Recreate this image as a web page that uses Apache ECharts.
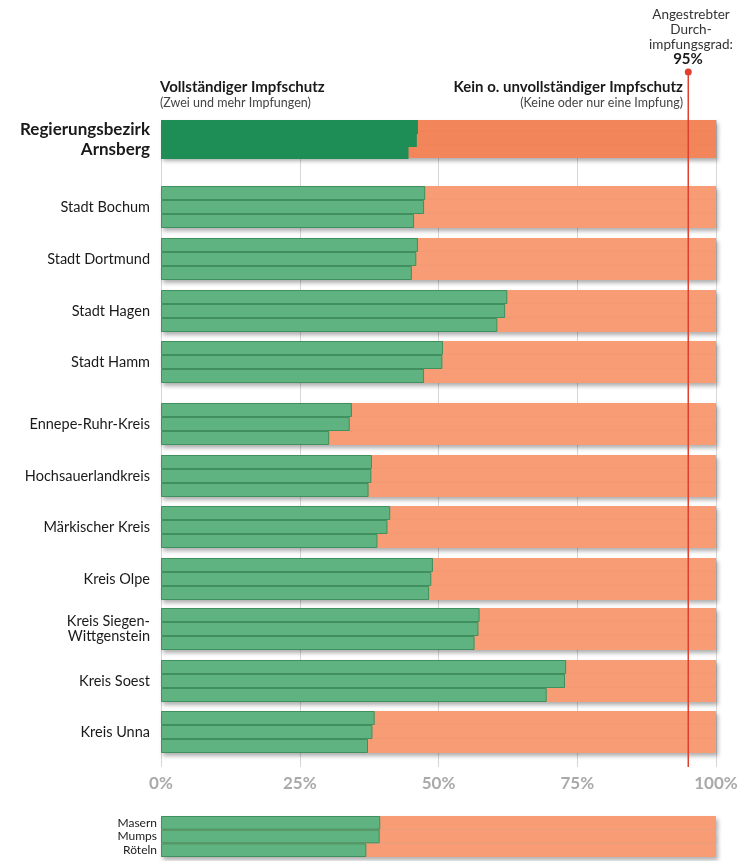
<!DOCTYPE html>
<html>
<head>
<meta charset="utf-8">
<script src="https://cdn.jsdelivr.net/npm/echarts@6/dist/echarts.min.js"></script>
<style>html,body{margin:0;padding:0;background:#fff;}#c{width:741px;height:861px;}</style>
</head>
<body>
<div id="c"></div>
<script>
// ---- data ----
const groups = ['Regierungsbezirk\nArnsberg', 'Stadt Bochum', 'Stadt Dortmund', 'Stadt Hagen', 'Stadt Hamm',
  'Ennepe-Ruhr-Kreis', 'Hochsauerlandkreis', 'Märkischer Kreis', 'Kreis Olpe', 'Kreis Siegen-\nWittgenstein',
  'Kreis Soest', 'Kreis Unna'];
const vaccines = ['Masern', 'Mumps', 'Röteln'];
const masern  = [46.3, 47.6, 46.3, 62.4, 50.8, 34.4, 38.0, 41.3, 49.0, 57.4, 73.0, 38.5];
const mumps   = [46.1, 47.4, 46.0, 62.0, 50.7, 34.0, 37.9, 40.8, 48.7, 57.2, 72.8, 38.1];
const roeteln = [44.6, 45.6, 45.2, 60.6, 47.4, 30.3, 37.4, 39.0, 48.3, 56.5, 69.5, 37.3];
const legendSample = [39.5, 39.4, 37.0];
const total = 100;
const target = 95;
const tickLabels = ['0%', '25%', '50%', '75%', '100%'];

// ---- layout ----
const L = 161, R = 25;
const groupTops = [120, 186, 238, 290, 341, 403, 455, 506, 558, 608, 660, 711];
const FONT = 'Lato';

const grid = [], xAxis = [], yAxis = [], series = [];

// background grid with gridlines + tick labels
grid.push({left: L, right: R, top: 120, bottom: 94});
xAxis.push({gridIndex: 0, type: 'value', min: 0, max: 100, interval: 25,
  axisLine: {show: false}, axisTick: {show: false},
  splitLine: {show: true, lineStyle: {color: '#d6d6d6', width: 1}},
  axisLabel: {margin: 8, color: '#a9a9a9', fontSize: 17, fontWeight: 'bold', fontFamily: FONT,
    formatter: (v) => tickLabels[Math.round(v / 25)]}});
yAxis.push({gridIndex: 0, type: 'value', show: false, min: 0, max: 1});

// target line grid
grid.push({left: L, right: R, top: 72, bottom: 94});
xAxis.push({gridIndex: 1, type: 'value', min: 0, max: 100, show: false});
yAxis.push({gridIndex: 1, type: 'value', min: 0, max: 1, show: false});

function addGroup(idx, top, height, vals, opts) {
  grid.push({left: L, right: R, top: top, height: height});
  xAxis.push({gridIndex: idx, type: 'value', min: 0, max: 100, show: false});
  yAxis.push({gridIndex: idx, type: 'category', data: vaccines, inverse: true,
    axisLine: {show: false}, axisTick: {show: false}, splitLine: {show: false},
    axisLabel: opts.label});
  series.push({type: 'bar', xAxisIndex: idx, yAxisIndex: idx, data: vaccines.map(() => total),
    barCategoryGap: '0%', barGap: '-100%', barWidth: '100%', silent: true, z: 2,
    itemStyle: {color: opts.orange, shadowColor: 'rgba(0,0,0,0.32)', shadowBlur: 4, shadowOffsetY: 3, shadowOffsetX: 2}});
  series.push({type: 'bar', xAxisIndex: idx, yAxisIndex: idx, data: vals,
    barCategoryGap: '0%', barGap: '-100%', barWidth: opts.border ? '100%' : '114%', silent: true, z: 3,
    itemStyle: opts.border ? {color: opts.green, borderColor: opts.border, borderWidth: 1}
                           : {color: opts.green, borderWidth: 0}});
}

groups.forEach((g, i) => {
  const first = i === 0;
  addGroup(i + 2, groupTops[i], first ? 39 : 42, [masern[i], mumps[i], roeteln[i]], {
    orange: first ? '#f3855a' : '#f79c75',
    green: first ? '#1f8d56' : '#5fb380',
    border: first ? null : '#3f8f5f',
    label: {interval: 0, margin: 11, color: '#1a1a1a', fontFamily: FONT,
      fontSize: first ? 17 : 14.5, fontWeight: first ? 'bold' : 'normal', lineHeight: first ? 20 : 15,
      align: 'right', formatter: (v, k) => k === 1 ? g : ''}
  });
});

// legend sample
addGroup(groups.length + 2, 816, 41, legendSample, {
  orange: '#f79c75', green: '#5fb380', border: '#3f8f5f',
  label: {interval: 0, margin: 4, color: '#1a1a1a', fontFamily: FONT, fontSize: 12, align: 'right'}
});

// target line
series.push({type: 'line', xAxisIndex: 1, yAxisIndex: 1, z: 10, silent: true,
  data: [{value: [target, 0], symbol: 'none'}, {value: [target, 1], symbol: 'circle', symbolSize: 7}],
  lineStyle: {color: '#e0412e', width: 1.5}, itemStyle: {color: '#e0412e'}, animation: false});

const chart = echarts.init(document.getElementById('c'), null, {renderer: 'canvas'});
chart.setOption({
  animation: false,
  backgroundColor: '#ffffff',
  grid, xAxis, yAxis, series,
  graphic: [
    {type: 'text', left: 160, top: 80, style: {text: 'Vollständiger Impfschutz', fontFamily: FONT, fontSize: 15, fontWeight: 'bold', fill: '#1a1a1a'}},
    {type: 'text', left: 160, top: 96, style: {text: '(Zwei und mehr Impfungen)', fontFamily: FONT, fontSize: 12.5, fill: '#444'}},
    {type: 'text', right: 58, top: 80, style: {text: 'Kein o. unvollständiger Impfschutz', fontFamily: FONT, fontSize: 15, fontWeight: 'bold', fill: '#1a1a1a'}},
    {type: 'text', right: 58, top: 96, style: {text: '(Keine oder nur eine Impfung)', fontFamily: FONT, fontSize: 12.5, fill: '#444'}},
    {type: 'text', x: 691, y: 7, style: {text: 'Angestrebter\nDurch-\nimpfungsgrad:', align: 'center', fontFamily: FONT, fontSize: 13.5, lineHeight: 15, fill: '#333'}},
    {type: 'text', x: 688, y: 52, style: {text: '95%', align: 'center', fontFamily: FONT, fontSize: 15, fontWeight: 'bold', fill: '#1a1a1a'}}
  ]
});
</script>
</body>
</html>
